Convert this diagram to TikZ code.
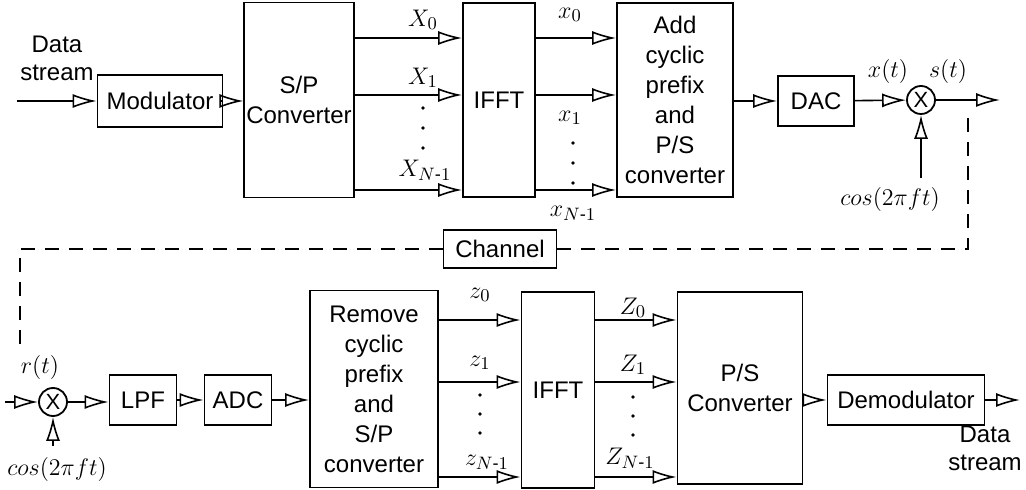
\documentclass[tikz,border=0pt]{standalone}
\usepackage{amsmath,amssymb}
\usepackage{fontspec}
\setmainfont{Liberation Sans}
\usetikzlibrary{arrows.meta, positioning, calc}

\tikzset{
  blk/.style={draw, line width=0.9pt, align=center, inner sep=1pt, font=\fontsize{12}{15}\selectfont},
  mixer/.style={draw, line width=0.9pt, circle, minimum size=14pt, inner sep=0pt, font=\fontsize{11}{12}\selectfont},
  tipopen/.tip={Latex[open, length=12pt, width=7pt]},
  arr/.style={line width=0.8pt, -tipopen},
  lbl/.style={font=\fontsize{13}{15}\selectfont},
  chanline/.style={line width=0.8pt, dash pattern=on 7pt off 5pt}
}

\begin{document}
\begin{tikzpicture}[x=0.5pt, y=-0.5pt]
  \useasboundingbox (0,0) rectangle (1026,490);

  % Transmitter blocks
  \node[blk, minimum width=62.5pt, minimum height=26pt] (mod) at (160,101) {Modulator};
  \node[blk, minimum width=51pt, minimum height=97.5pt] (sp) at (299,100) {S/P\\Converter};
  \node[blk, minimum width=36pt, minimum height=97pt] (ifft) at (499,100) {IFFT};
  \node[blk, minimum width=58pt, minimum height=97pt] (addcp) at (675,100) {Add\\cyclic\\prefix\\and\\P/S\\converter};
  \node[blk, minimum width=38pt, minimum height=25pt] (dac) at (816,101) {DAC};
  \node[mixer] (mixa) at (921,100) {X};

  % Channel
  \node[blk, minimum width=56.5pt, minimum height=19pt] (chan) at (500,249) {Channel};

  % Receiver blocks
  \node[mixer] (mixb) at (53,402) {X};
  \node[blk, minimum width=33.5pt, minimum height=25pt] (lpf) at (143,400) {LPF};
  \node[blk, minimum width=33.5pt, minimum height=25pt] (adc) at (238,400) {ADC};
  \node[blk, minimum width=64pt, minimum height=98.5pt] (rem) at (374,389) {Remove\\cyclic\\prefix\\and\\S/P\\converter};
  \node[blk, minimum width=36.5pt, minimum height=98pt] (iffb) at (558,390) {IFFT};
  \node[blk, minimum width=62.5pt, minimum height=96pt] (ps) at (740,388) {P/S\\Converter};
  \node[blk, minimum width=78.5pt, minimum height=25pt] (demod) at (906,400) {Demodulator};

  % Free ends
  \coordinate (inA) at (17,101);
  \coordinate (outA) at (1000,100);
  \coordinate (cosA) at (921,178);
  \coordinate (inB) at (5,402);
  \coordinate (cosB) at (53,446);
  \coordinate (outB) at (1020,400);
  \coordinate (dnA) at (968,118);
  \coordinate (dnB) at (968,249);
  \coordinate (upB) at (20,249);
  \coordinate (upA) at (20,345);

  % Transmitter connectors
  \draw[arr] (inA) -- (mod);
  \draw[arr] (mod) -- (sp.west |- mod);
  \foreach \y in {38,95,190} {
    \draw[arr] (sp.east |- 0,\y) -- (ifft.west |- 0,\y);
    \draw[arr] (ifft.east |- 0,\y) -- (addcp.west |- 0,\y);
  }
  \draw[arr] (addcp.east |- dac) -- (dac);
  \draw[arr] (dac) -- (mixa);
  \draw[arr] (mixa) -- (outA);
  \draw[arr] (cosA) -- (mixa);

  % Channel path
  \draw[chanline] (dnA) -- (dnB) -- (chan);
  \draw[chanline] (chan) -- (upB) -- (upA);

  % Receiver connectors
  \draw[arr] (inB) -- (mixb);
  \draw[arr] (cosB) -- (mixb);
  \draw[arr] (mixb) -- (lpf.west |- mixb);
  \draw[arr] (lpf) -- (adc);
  \draw[arr] (adc.east) -- (rem.west |- adc);
  \foreach \y in {320,382,477} {
    \draw[arr] (rem.east |- 0,\y) -- (iffb.west |- 0,\y);
    \draw[arr] (iffb.east |- 0,\y) -- (ps.west |- 0,\y);
  }
  \draw[arr] (ps.east |- demod) -- (demod);
  \draw[arr] (demod) -- (outB);

  % Labels
  \node[lbl, align=center, font=\fontsize{12}{14}\selectfont] (din) at (57,58) {Data\\stream};
  \node[lbl] (lX0) at (423,20) {$X_0$};
  \node[lbl] (lX1) at (423,78) {$X_1$};
  \node[lbl] (lXN) at (425,170) {$X_{N\text{-}1}$};
  \node[lbl] (lx0) at (570,15) {$x_0$};
  \node[lbl] (lx1) at (570,118) {$x_1$};
  \node[lbl] (lxN) at (573,213) {$x_{N\text{-}1}$};
  \node[lbl] (lxt) at (888,72) {$x(t)$};
  \node[lbl] (lst) at (948,72) {$s(t)$};
  \node[lbl] (lcosA) at (890,200) {$cos(2\pi ft)$};
  \node[lbl] (lrt) at (40,368) {$r(t)$};
  \node[lbl] (lcosB) at (57,470) {$cos(2\pi ft)$};
  \node[lbl] (lz0) at (480,295) {$z_0$};
  \node[lbl] (lz1) at (480,363) {$z_1$};
  \node[lbl] (lzN) at (487,462) {$z_{N\text{-}1}$};
  \node[lbl] (lZ0) at (633,308) {$Z_0$};
  \node[lbl] (lZ1) at (633,365) {$Z_1$};
  \node[lbl] (lZN) at (630,458) {$Z_{N\text{-}1}$};
  \node[lbl, align=center, font=\fontsize{12}{14}\selectfont] (dout) at (985,448) {Data\\stream};

  % Dots
  \foreach \y in {108,128,148} \fill (423,\y) circle (0.9pt);
  \foreach \y in {143,163,183} \fill (573,\y) circle (0.9pt);
  \foreach \y in {395,414,433} \fill (480,\y) circle (0.9pt);
  \foreach \y in {397,416,435} \fill (633,\y) circle (0.9pt);
\end{tikzpicture}
\end{document}
